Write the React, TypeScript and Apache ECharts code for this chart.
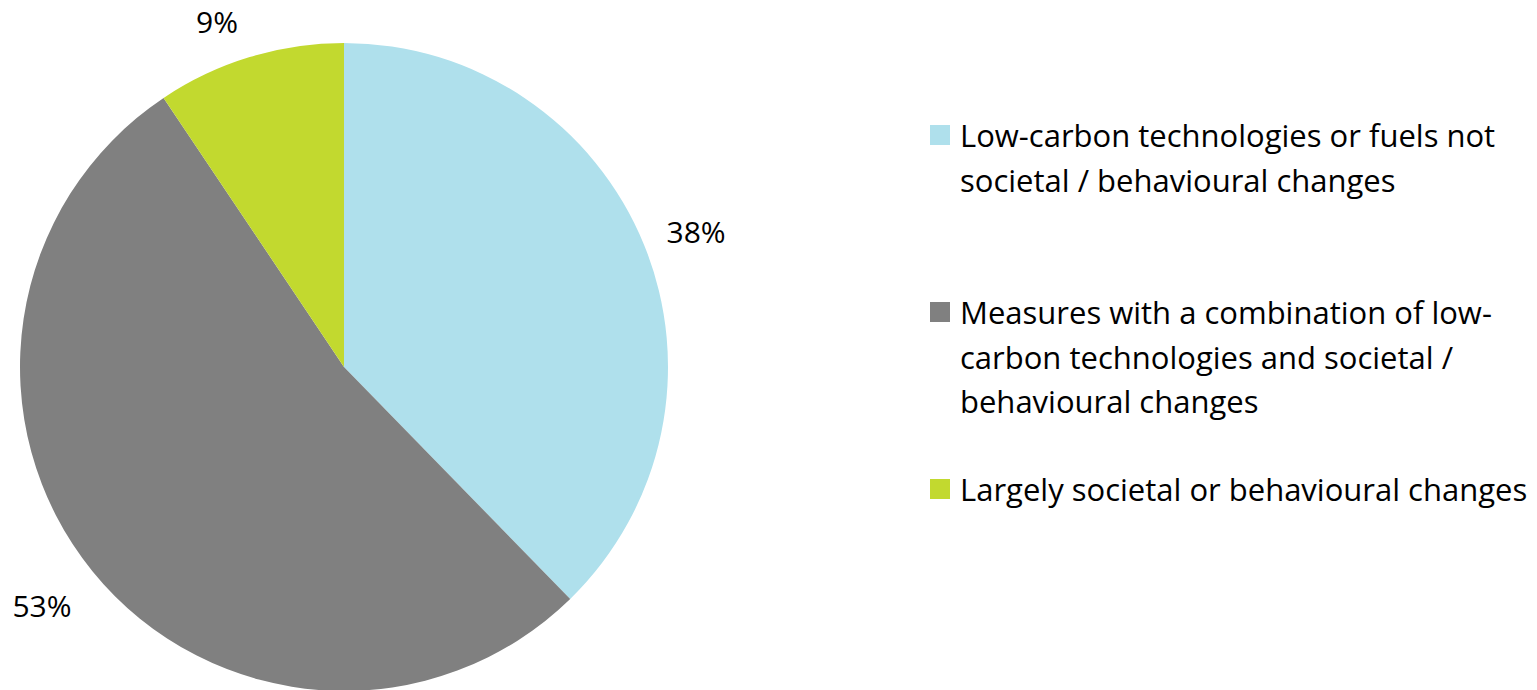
import React, { useEffect, useRef } from 'react';
import * as echarts from 'echarts';

// Categories (legend entries) and their shares of the pie
const categories = [
  'Low-carbon technologies or fuels not societal / behavioural changes',
  'Measures with a combination of low-carbon technologies and societal / behavioural changes',
  'Largely societal or behavioural changes',
];
const shares = [37.7, 52.9, 9.4];
const colors = ['#AFE0EC', '#808080', '#C2D92F'];

// Wrapped legend text, as it appears in the reference
const legendLines = [
  ['Low-carbon technologies or fuels not', 'societal / behavioural changes'],
  ['Measures with a combination of low-', 'carbon technologies and societal /', 'behavioural changes'],
  ['Largely societal or behavioural changes'],
];

// Label placement tweaks per slice (radial length and offset from line end)
const labelLength = [35, 54, 37];
const labelDistance = [-10, -21, 1];

const FONT = '"Open Sans", "Noto Sans", sans-serif';
const LEGEND_LH = 44.5;
const LEGEND_FIRST_LINE_CENTERS = [135, 312, 489];

export default function App() {
  const ref = useRef<HTMLDivElement>(null);

  useEffect(() => {
    if (!ref.current) return;
    const chart = echarts.init(ref.current, undefined, { renderer: 'svg' });

    const legends = categories.map((name, i) => {
      const lines = legendLines[i];
      const n = lines.length;
      const text = '\n'.repeat(n - 1) + lines.join('\n');
      return {
        show: true,
        orient: 'vertical',
        left: 930,
        top: LEGEND_FIRST_LINE_CENTERS[i] - (n - 1) * LEGEND_LH - LEGEND_LH / 2,
        padding: 0,
        itemWidth: 20,
        itemHeight: 20,
        icon: 'rect',
        selectedMode: false,
        data: [name],
        formatter: () => text,
        textStyle: {
          fontFamily: FONT,
          fontSize: 31,
          color: '#000',
          lineHeight: LEGEND_LH,
          padding: [0, 0, 0, 5],
        },
      };
    });

    chart.setOption({
      animation: false,
      backgroundColor: '#fff',
      color: colors,
      legend: legends,
      series: [
        {
          type: 'pie',
          center: [344, 367],
          radius: 324,
          startAngle: 90,
          clockwise: true,
          avoidLabelOverlap: false,
          percentPrecision: 2,
          itemStyle: { borderWidth: 0 },
          label: {
            show: true,
            position: 'outside',
            fontFamily: FONT,
            fontSize: 30,
            color: '#000',
            formatter: (p: any) => Math.round(p.percent) + '%',
          },
          labelLine: { show: false, length: 40, length2: 0 },
          emphasis: { disabled: true },
          data: categories.map((name, i) => ({
            name,
            value: shares[i],
            label: { distanceToLabelLine: labelDistance[i] },
            labelLine: { show: false, length: labelLength[i], length2: 0 },
          })),
        },
      ],
    });

    return () => chart.dispose();
  }, []);

  return (
    <div
      ref={ref}
      style={{ position: 'fixed', left: 0, top: 0, width: 1537, height: 690 }}
    />
  );
}
